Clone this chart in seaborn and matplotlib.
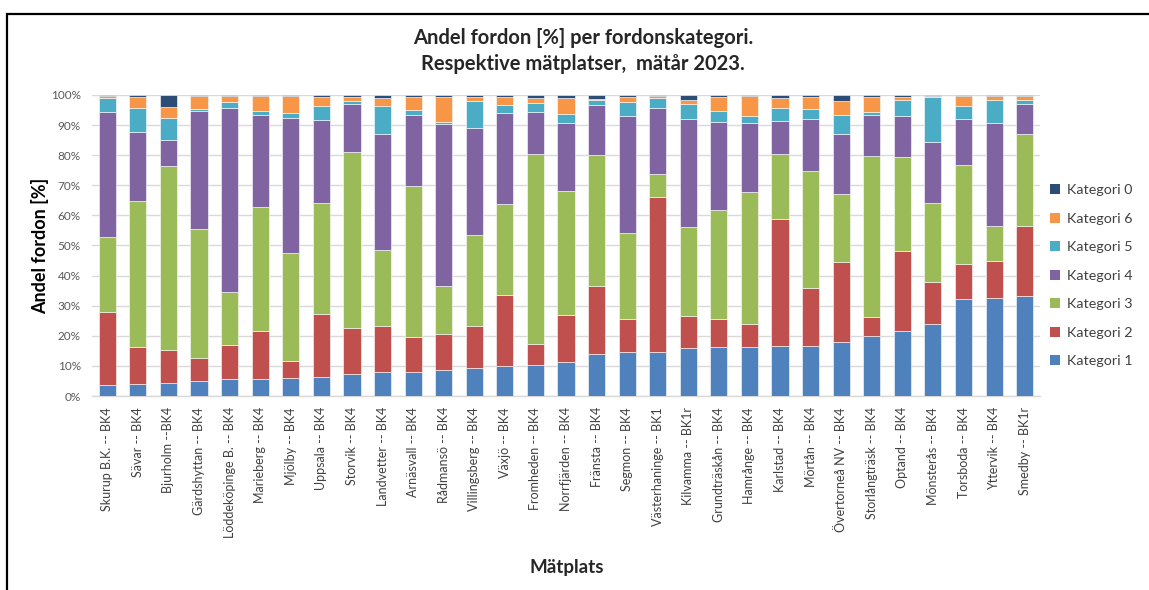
import numpy as np
import pandas as pd
import matplotlib
matplotlib.use("Agg")
import matplotlib.pyplot as plt
from matplotlib.patches import Patch, Rectangle
import seaborn as sns

# Measuring sites (x-axis)
platser = [
    "Skurup B.K. -- BK4", "Sävar -- BK4", "Bjurholm --BK4", "Gärdshyttan -- BK4",
    "Löddeköpinge B. -- BK4", "Marieberg -- BK4", "Mjölby -- BK4", "Uppsala -- BK4",
    "Storvik -- BK4", "Landvetter -- BK4", "Arnäsvall -- BK4", "Rådmansö -- BK4",
    "Villingsberg -- BK4", "Växjö -- BK4", "Fromheden -- BK4", "Norrfjärden -- BK4",
    "Fränsta -- BK4", "Segmon -- BK4", "Västerhaninge -- BK1", "Kilvamma -- BK1r",
    "Grundträskån -- BK4", "Hamrånge -- BK4", "Karlstad -- BK4", "Mörtån -- BK4",
    "Övertorneå NV -- BK4", "Storlångträsk -- BK4", "Optand -- BK4", "Mönsterås -- BK4",
    "Torsboda -- BK4", "Yttervik -- BK4", "Smedby -- BK1r",
]

# Share of vehicles per category [%]
kategori_1 = [3.5, 3.9, 4.3, 5.1, 5.8, 5.8, 6.0, 6.4, 7.4, 7.9, 8.1, 8.5, 9.2, 9.9, 10.2, 11.3,
              13.8, 14.5, 14.7, 15.8, 16.2, 16.2, 16.6, 16.6, 17.9, 19.9, 21.7, 23.8, 32.2, 32.6, 33.2]
kategori_2 = [24.5, 12.3, 11.1, 7.6, 11.0, 15.9, 5.6, 21.0, 15.1, 15.2, 11.6, 12.2, 13.9, 23.8, 7.1, 15.7,
              22.6, 11.1, 51.4, 10.9, 9.4, 7.7, 42.2, 19.2, 26.5, 6.5, 26.6, 14.0, 11.8, 12.1, 23.4]
kategori_3 = [24.8, 48.6, 60.9, 42.9, 17.9, 41.2, 36.0, 36.6, 58.7, 25.5, 50.0, 15.7, 30.4, 30.0, 63.1, 41.2,
              43.7, 28.7, 7.7, 29.6, 36.2, 44.0, 21.6, 39.1, 22.8, 53.3, 31.1, 26.2, 32.6, 11.9, 30.4]
kategori_4 = [41.7, 22.9, 8.7, 39.2, 61.1, 30.5, 44.8, 27.7, 15.7, 38.4, 23.7, 53.9, 35.6, 30.4, 14.1, 22.4,
              16.7, 38.7, 22.0, 35.7, 29.1, 22.7, 11.0, 17.1, 19.8, 13.8, 13.6, 20.3, 15.4, 34.0, 9.9]
kategori_5 = [4.4, 8.1, 7.4, 0.7, 1.8, 1.4, 1.7, 4.5, 1.2, 9.5, 1.7, 0.7, 8.9, 2.5, 2.7, 3.1,
              1.4, 4.6, 3.1, 4.9, 3.9, 2.4, 4.2, 3.5, 6.5, 1.0, 5.3, 14.9, 4.5, 7.6, 1.3]
kategori_6 = [0.8, 3.6, 3.7, 4.2, 2.1, 4.9, 5.6, 3.0, 1.3, 2.6, 4.1, 8.3, 1.4, 2.8, 1.7, 5.2,
              0.6, 1.6, 0.7, 1.6, 4.4, 6.7, 3.3, 3.9, 4.5, 4.7, 0.9, 0.5, 3.1, 1.4, 1.4]
kategori_0 = [0.3, 0.6, 3.9, 0.3, 0.3, 0.3, 0.3, 0.8, 0.6, 0.9, 0.8, 0.7, 0.6, 0.6, 1.1, 1.1,
              1.2, 0.8, 0.4, 1.5, 0.8, 0.3, 1.1, 0.6, 2.0, 0.8, 0.8, 0.3, 0.4, 0.4, 0.4]

kategorier = ["Kategori 0", "Kategori 6", "Kategori 5", "Kategori 4",
              "Kategori 3", "Kategori 2", "Kategori 1"]
serier = {
    "Kategori 0": kategori_0, "Kategori 6": kategori_6, "Kategori 5": kategori_5,
    "Kategori 4": kategori_4, "Kategori 3": kategori_3, "Kategori 2": kategori_2,
    "Kategori 1": kategori_1,
}
farger = {
    "Kategori 0": "#2C4D75", "Kategori 6": "#F79646", "Kategori 5": "#4BACC6",
    "Kategori 4": "#8064A2", "Kategori 3": "#9BBB59", "Kategori 2": "#C0504D",
    "Kategori 1": "#4F81BD",
}

rows = []
for kat in kategorier:
    for plats, v in zip(platser, serier[kat]):
        rows.append({"Mätplats": plats, "Kategori": kat, "Andel": v})
df = pd.DataFrame(rows)

sns.set_style("white")
plt.rcParams["font.family"] = ["Lato", "DejaVu Sans"]

fig = plt.figure(figsize=(11.49, 5.90), dpi=100)
ax = fig.add_axes([0.0801, 0.3288, 0.8250, 0.5102])

# Frame around the chart area
fig.patches.append(Rectangle((7 / 1149, -0.1), 1.2, 1.1 - 14 / 590,
                             transform=fig.transFigure, fill=False,
                             edgecolor="black", linewidth=1.6, zorder=0))

# Stacked bars: last hue level ends up at the bottom of each stack
sns.histplot(data=df, x="Mätplats", weights="Andel", hue="Kategori",
             hue_order=kategorier, palette=farger, multiple="stack",
             discrete=True, shrink=0.56, alpha=1, edgecolor="white",
             linewidth=0.4, legend=False, ax=ax, zorder=3)

ax.set_xlim(-0.5, len(platser) - 0.5)
ax.set_ylim(0, 100)
ax.set_yticks(np.arange(0, 101, 10))
ax.set_yticklabels([f"{t}%" for t in range(0, 101, 10)])
ax.set_xticks(range(len(platser)))
ax.set_xticklabels(platser, rotation=90)
ax.tick_params(axis="y", labelsize=8.5, labelcolor="#595959", length=0, pad=8)
ax.tick_params(axis="x", labelsize=9, labelcolor="#404040", length=0, pad=8)
ax.yaxis.grid(True, color="#D9D9D9", linewidth=1.0, zorder=0)
ax.set_axisbelow(True)
for side in ["top", "right", "left"]:
    ax.spines[side].set_visible(False)
ax.spines["bottom"].set_color("#D9D9D9")
ax.spines["bottom"].set_linewidth(1.0)

ax.set_ylabel("Andel fordon [%]", fontsize=13, fontweight="bold", color="black", labelpad=1)
ax.set_xlabel("")
fig.text(567 / 1149, 1 - 568 / 590, "Mätplats", fontsize=13.5, fontweight="bold",
         ha="center", va="center")

fig.text(583 / 1149, 1 - 38 / 590, "Andel fordon [%] per fordonskategori.",
         fontsize=14.5, fontweight="bold", ha="center", va="center")
fig.text(583 / 1149, 1 - 64 / 590, "Respektive mätplatser,  mätår 2023.",
         fontsize=14.5, fontweight="bold", ha="center", va="center")

handles = [Patch(facecolor=farger[k], edgecolor="none") for k in kategorier]
leg = ax.legend(handles, kategorier, loc="center left", bbox_to_anchor=(1.0, 0.40),
                frameon=False, fontsize=10.3, labelspacing=1.15, handlelength=0.7,
                handleheight=0.7, handletextpad=0.5, borderaxespad=0.3)
for t in leg.get_texts():
    t.set_color("#404040")

fig.savefig("out.png", dpi=100, facecolor="white")
